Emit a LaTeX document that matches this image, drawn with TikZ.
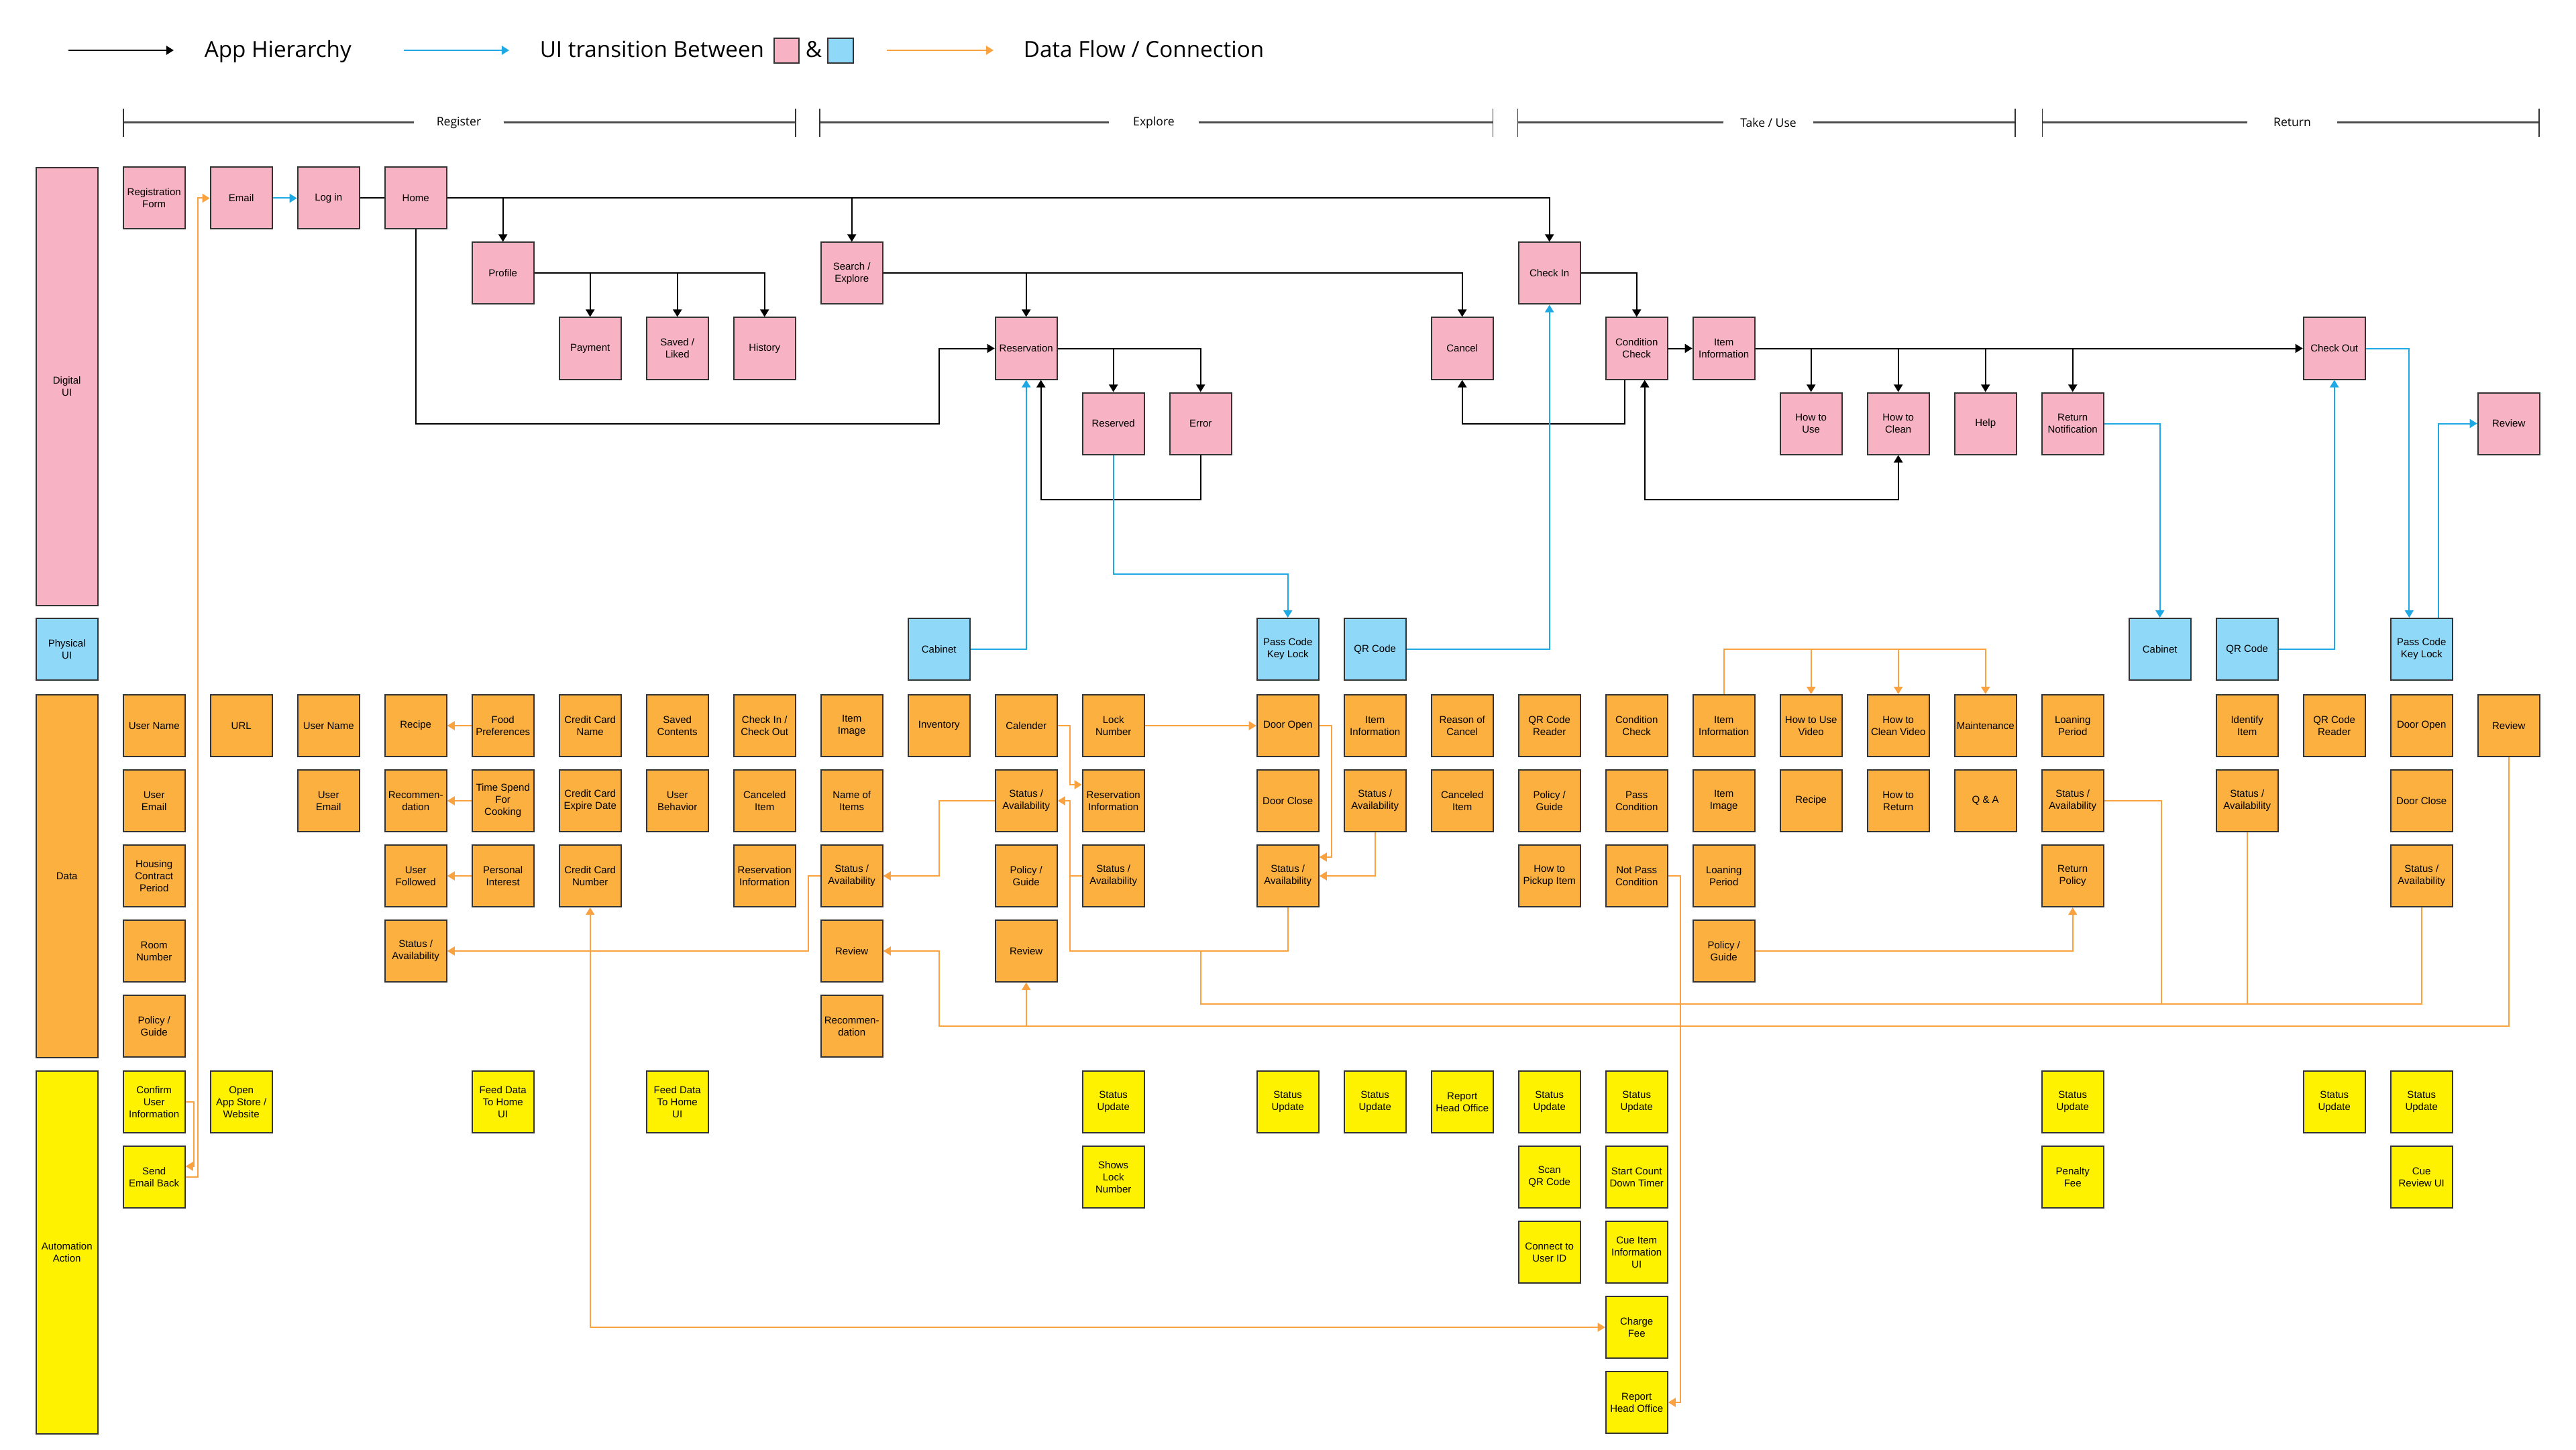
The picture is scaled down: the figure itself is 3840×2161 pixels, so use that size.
\documentclass[tikz,border=0pt]{standalone}
\usepackage{fontspec}
\setmainfont{Liberation Sans}
\newfontfamily\legendfont{Open Sans}
\usetikzlibrary{arrows.meta}
\definecolor{pinkc}{HTML}{F7B2C4}
\definecolor{bluec}{HTML}{8FD8F8}
\definecolor{orangec}{HTML}{FBB040}
\definecolor{yellowc}{HTML}{FFF200}
\definecolor{bline}{HTML}{1EA8E4}
\definecolor{oline}{HTML}{F9A23F}
\definecolor{edgec}{HTML}{333333}
\begin{document}
\begin{tikzpicture}[x=0.25pt,y=-0.25pt,
  box/.style={draw=edgec,line width=0.5pt,minimum width=23pt,minimum height=23pt,inner sep=0pt,align=center,font=\fontsize{3.75}{4.5}\selectfont},
  pk/.style={box,fill=pinkc},
  bl/.style={box,fill=bluec},
  dt/.style={box,fill=orangec},
  au/.style={box,fill=yellowc},
  blk/.style={draw=black,line width=0.5pt},
  blu/.style={draw=bline,line width=0.5pt},
  org/.style={draw=oline,line width=0.5pt},
  tip/.style={-{Triangle[length=2.8pt,width=3.3pt]}},
  dtip/.style={{Triangle[length=2.8pt,width=3.3pt]}-{Triangle[length=2.8pt,width=3.3pt]}},
  legtext/.style={anchor=base west,inner sep=0pt,font=\legendfont\fontsize{8.3}{10}\selectfont},
  phase/.style={draw=black!70,line width=0.6pt},
  phtick/.style={draw=black!80,line width=0.3pt},
  phtext/.style={fill=white,inner sep=0pt,minimum width=33.3pt,minimum height=6pt,font=\legendfont\fontsize{4.4}{5}\selectfont},
]
\useasboundingbox[fill=white] (0,0) rectangle (3840,2161);

% ---------------- legend ----------------
\coordinate (la1) at (102,75); \coordinate (la2) at (259,75);
\coordinate (lb1) at (602,75); \coordinate (lb2) at (759,75);
\coordinate (lc1) at (1322,75); \coordinate (lc2) at (1481,75);
\draw[blk,tip,line width=0.6pt] (la1) -- (la2);
\draw[blu,tip,line width=0.6pt] (lb1) -- (lb2);
\draw[org,tip,line width=0.6pt] (lc1) -- (lc2);
\node[legtext] (lt1) at (304,86) {App Hierarchy};
\node[legtext] (lt2) at (804,86) {UI transition Between};
\node[draw=edgec,line width=0.4pt,fill=pinkc,minimum width=9.25pt,minimum height=9.25pt,inner sep=0pt] (lsq1) at (1172.5,75.5) {};
\node[legtext] (lamp) at (1200,86) {\&};
\node[draw=edgec,line width=0.4pt,fill=bluec,minimum width=9.5pt,minimum height=9.25pt,inner sep=0pt] (lsq2) at (1253,75.5) {};
\node[legtext] (lt3) at (1525,86) {Data Flow / Connection};

% ---------------- phases ----------------
\draw[phase] (184,182.7) -- (1186,182.7);
\draw[phtick] (184,162) -- (184,204); \draw[phtick] (1186,162) -- (1186,204);
\node[phtext] (ph1) at (684,182.7) {Register};
\draw[phase] (1222,182.7) -- (2225.5,182.7);
\draw[phtick] (1222,162) -- (1222,204); \draw[phtick] (2225.5,162) -- (2225.5,204);
\node[phtext] (ph2) at (1720,182.7) {Explore};
\draw[phase] (2262.6,182.7) -- (3004,182.7);
\draw[phtick] (2262.6,162) -- (2262.6,204); \draw[phtick] (3004,162) -- (3004,204);
\node[phtext] (ph3) at (2636,182.7) {Take / Use};
\draw[phase] (3044.8,182.7) -- (3785,182.7);
\draw[phtick] (3044.8,162) -- (3044.8,204); \draw[phtick] (3785,162) -- (3785,204);
\node[phtext] (ph4) at (3417,182.7) {Return};

\begin{scope}[x=32.5pt,xshift=24.925pt]
% ---------------- category labels ----------------
\node[pk,minimum height=163.25pt] (catd) at (0,576.5) {Digital\\UI};
\node[bl] (catp) at (0,968) {Physical\\UI};
\node[dt,minimum height=135.25pt] (catdata) at (0,1306.5) {Data};
\node[au,minimum height=135.25pt] (cata) at (0,1867.5) {Automation\\Action};

% ---------------- digital UI ----------------
\node[pk] (regform) at (1,295.5) {Registration\\Form};
\node[pk] (email) at (2,295.5) {Email};
\node[pk] (login) at (3,295.5) {Log in};
\node[pk] (home) at (4,295.5) {Home};
\node[pk] (profile) at (5,407.5) {Profile};
\node[pk] (payment) at (6,519.5) {Payment};
\node[pk] (saved) at (7,519.5) {Saved /\\Liked};
\node[pk] (history) at (8,519.5) {History};
\node[pk] (search) at (9,407.5) {Search /\\Explore};
\node[pk] (reservation) at (11,519.5) {Reservation};
\node[pk] (reserved) at (12,631.5) {Reserved};
\node[pk] (error) at (13,631.5) {Error};
\node[pk] (cancel) at (16,519.5) {Cancel};
\node[pk] (checkin) at (17,407.5) {Check In};
\node[pk] (condcheck) at (18,519.5) {Condition\\Check};
\node[pk] (iteminfo) at (19,519.5) {Item\\Information};
\node[pk] (howuse) at (20,631.5) {How to\\Use};
\node[pk] (howclean) at (21,631.5) {How to\\Clean};
\node[pk] (help) at (22,631.5) {Help};
\node[pk] (retnotif) at (23,631.5) {Return\\Notification};
\node[pk] (checkout) at (26,519.5) {Check Out};
\node[pk] (reviewui) at (28,631.5) {Review};

% ---------------- physical UI ----------------
\node[bl] (cab1) at (10,968) {Cabinet};
\node[bl] (pass1) at (14,968) {Pass Code\\Key Lock};
\node[bl] (qr1) at (15,968) {QR Code};
\node[bl] (cab2) at (24,968) {Cabinet};
\node[bl] (qr2) at (25,968) {QR Code};
\node[bl] (pass2) at (27,968) {Pass Code\\Key Lock};

% ---------------- data ----------------
\node[dt] (d1r1) at (1,1082) {User Name};
\node[dt] (d1r2) at (1,1194) {User\\Email};
\node[dt] (d1r3) at (1,1306) {Housing\\Contract\\Period};
\node[dt] (d1r4) at (1,1418) {Room\\Number};
\node[dt] (d1r5) at (1,1530) {Policy /\\Guide};
\node[dt] (d2r1) at (2,1082) {URL};
\node[dt] (d3r1) at (3,1082) {User Name};
\node[dt] (d3r2) at (3,1194) {User\\Email};
\node[dt] (d4r1) at (4,1082) {Recipe};
\node[dt] (d4r2) at (4,1194) {Recommen-\\dation};
\node[dt] (d4r3) at (4,1306) {User\\Followed};
\node[dt] (d4r4) at (4,1418) {Status /\\Availability};
\node[dt] (d5r1) at (5,1082) {Food\\Preferences};
\node[dt] (d5r2) at (5,1194) {Time Spend\\For\\Cooking};
\node[dt] (d5r3) at (5,1306) {Personal\\Interest};
\node[dt] (d6r1) at (6,1082) {Credit Card\\Name};
\node[dt] (d6r2) at (6,1194) {Credit Card\\Expire Date};
\node[dt] (d6r3) at (6,1306) {Credit Card\\Number};
\node[dt] (d7r1) at (7,1082) {Saved\\Contents};
\node[dt] (d7r2) at (7,1194) {User\\Behavior};
\node[dt] (d8r1) at (8,1082) {Check In /\\Check Out};
\node[dt] (d8r2) at (8,1194) {Canceled\\Item};
\node[dt] (d8r3) at (8,1306) {Reservation\\Information};
\node[dt] (d9r1) at (9,1082) {Item\\Image};
\node[dt] (d9r2) at (9,1194) {Name of\\Items};
\node[dt] (d9r3) at (9,1306) {Status /\\Availability};
\node[dt] (d9r4) at (9,1418) {Review};
\node[dt] (d9r5) at (9,1530) {Recommen-\\dation};
\node[dt] (d10r1) at (10,1082) {Inventory};
\node[dt] (d11r1) at (11,1082) {Calender};
\node[dt] (d11r2) at (11,1194) {Status /\\Availability};
\node[dt] (d11r3) at (11,1306) {Policy /\\Guide};
\node[dt] (d11r4) at (11,1418) {Review};
\node[dt] (d12r1) at (12,1082) {Lock\\Number};
\node[dt] (d12r2) at (12,1194) {Reservation\\Information};
\node[dt] (d12r3) at (12,1306) {Status /\\Availability};
\node[dt] (d14r1) at (14,1082) {Door Open};
\node[dt] (d14r2) at (14,1194) {Door Close};
\node[dt] (d14r3) at (14,1306) {Status /\\Availability};
\node[dt] (d15r1) at (15,1082) {Item\\Information};
\node[dt] (d15r2) at (15,1194) {Status /\\Availability};
\node[dt] (d16r1) at (16,1082) {Reason of\\Cancel};
\node[dt] (d16r2) at (16,1194) {Canceled\\Item};
\node[dt] (d17r1) at (17,1082) {QR Code\\Reader};
\node[dt] (d17r2) at (17,1194) {Policy /\\Guide};
\node[dt] (d17r3) at (17,1306) {How to\\Pickup Item};
\node[dt] (d18r1) at (18,1082) {Condition\\Check};
\node[dt] (d18r2) at (18,1194) {Pass\\Condition};
\node[dt] (d18r3) at (18,1306) {Not Pass\\Condition};
\node[dt] (d19r1) at (19,1082) {Item\\Information};
\node[dt] (d19r2) at (19,1194) {Item\\Image};
\node[dt] (d19r3) at (19,1306) {Loaning\\Period};
\node[dt] (d19r4) at (19,1418) {Policy /\\Guide};
\node[dt] (d20r1) at (20,1082) {How to Use\\Video};
\node[dt] (d20r2) at (20,1194) {Recipe};
\node[dt] (d21r1) at (21,1082) {How to\\Clean Video};
\node[dt] (d21r2) at (21,1194) {How to\\Return};
\node[dt] (d22r1) at (22,1082) {Maintenance};
\node[dt] (d22r2) at (22,1194) {Q \& A};
\node[dt] (d23r1) at (23,1082) {Loaning\\Period};
\node[dt] (d23r2) at (23,1194) {Status /\\Availability};
\node[dt] (d23r3) at (23,1306) {Return\\Policy};
\node[dt] (d25r1) at (25,1082) {Identify\\Item};
\node[dt] (d25r2) at (25,1194) {Status /\\Availability};
\node[dt] (d26r1) at (26,1082) {QR Code\\Reader};
\node[dt] (d27r1) at (27,1082) {Door Open};
\node[dt] (d27r2) at (27,1194) {Door Close};
\node[dt] (d27r3) at (27,1306) {Status /\\Availability};
\node[dt] (d28r1) at (28,1082) {Review};

% ---------------- automation ----------------
\node[au] (a1r1) at (1,1643) {Confirm\\User\\Information};
\node[au] (a1r2) at (1,1755) {Send\\Email Back};
\node[au] (a2r1) at (2,1643) {Open\\App Store /\\Website};
\node[au] (a5r1) at (5,1643) {Feed Data\\To Home\\UI};
\node[au] (a7r1) at (7,1643) {Feed Data\\To Home\\UI};
\node[au] (a12r1) at (12,1643) {Status\\Update};
\node[au] (a12r2) at (12,1755) {Shows\\Lock\\Number};
\node[au] (a14r1) at (14,1643) {Status\\Update};
\node[au] (a15r1) at (15,1643) {Status\\Update};
\node[au] (a16r1) at (16,1643) {Report\\Head Office};
\node[au] (a17r1) at (17,1643) {Status\\Update};
\node[au] (a17r2) at (17,1755) {Scan\\QR Code};
\node[au] (a17r3) at (17,1867) {Connect to\\User ID};
\node[au] (a18r1) at (18,1643) {Status\\Update};
\node[au] (a18r2) at (18,1755) {Start Count\\Down Timer};
\node[au] (a18r3) at (18,1867) {Cue Item\\Information\\UI};
\node[au] (a18r4) at (18,1979) {Charge\\Fee};
\node[au] (a18r5) at (18,2091) {Report\\Head Office};
\node[au] (a23r1) at (23,1643) {Status\\Update};
\node[au] (a23r2) at (23,1755) {Penalty\\Fee};
\node[au] (a26r1) at (26,1643) {Status\\Update};
\node[au] (a27r1) at (27,1643) {Status\\Update};
\node[au] (a27r2) at (27,1755) {Cue\\Review UI};

% ---------------- black: app hierarchy ----------------
\draw[blk] (login) -- (home);
\draw[blk,tip] (home.east) -| (checkin.north);
\draw[blk,tip] (profile.north |- home.east) -- (profile.north);
\draw[blk,tip] (search.north |- home.east) -- (search.north);
\draw[blk,tip] (profile.east) -| (history.north);
\draw[blk,tip] (payment.north |- profile.east) -- (payment.north);
\draw[blk,tip] (saved.north |- profile.east) -- (saved.north);
\draw[blk,tip] (search.east) -| (cancel.north);
\draw[blk,tip] (reservation.north |- search.east) -- (reservation.north);
\coordinate (hb) at (10,632);
\draw[blk,tip] (home.south) |- (hb) |- (reservation.west);
\draw[blk,tip] (reservation.east) -| (error.north);
\draw[blk,tip] (reserved.north |- reservation.east) -- (reserved.north);
\coordinate (eb) at (13,745);
\coordinate (rsr) at ([xshift=5.5pt]reservation.south);
\draw[blk,tip] (error.south) |- (rsr |- eb) -- (rsr);
\draw[blk,tip] (checkin.east) -| (condcheck.north);
\draw[blk,tip] (condcheck) -- (iteminfo);
\draw[blk,tip] (iteminfo.east) -- (checkout.west);
\foreach \n in {howuse,howclean,help,retnotif} \draw[blk,tip] (\n.north |- iteminfo.east) -- (\n.north);
\coordinate (ccl) at ([xshift=-4.5pt]condcheck.south);
\coordinate (cb) at (16,632);
\draw[blk,tip] (ccl) |- (cb) -- (cancel.south);
\coordinate (ccr) at ([xshift=3pt]condcheck.south);
\draw[blk,dtip] (ccr) |- (howclean.south |- eb) -- (howclean.south);

% ---------------- blue: UI transitions ----------------
\draw[blu,tip] (email) -- (login);
\draw[blu,tip] (cab1.east) -| (reservation.south);
\coordinate (rb) at (12,856);
\draw[blu,tip] (reserved.south) |- (pass1.north |- rb) -- (pass1.north);
\draw[blu,tip] (qr1.east) -| (checkin.south);
\draw[blu,tip] (retnotif.east) -| (cab2.north);
\draw[blu,tip] (qr2.east) -| (checkout.south);
\coordinate (p2l) at ([xshift=-4.6pt]pass2.north);
\coordinate (p2r) at ([xshift=6.3pt]pass2.north);
\draw[blu,tip] (checkout.east) -| (p2l);
\draw[blu,tip] (p2r) |- (reviewui.west);

% ---------------- orange: data flow ----------------
\coordinate (o1) at (1.5,295.5);
\draw[org,tip] (a1r2.east) -| (o1) -- (email.west);
\coordinate (o2) at (1.455,1739);
\draw[org,tip] (a1r1.east) -| (o2) -- (a1r2.east |- o2);
\draw[org,tip] (d5r1) -- (d4r1);
\draw[org,tip] (d5r2) -- (d4r2);
\draw[org,tip] (d5r3) -- (d4r3);
\coordinate (j85) at (8.5,1418);
\draw[org,tip] (d9r3.west) -| (j85) -- (d4r4.east);
\coordinate (j10) at (10,1306);
\draw[org,tip] (d11r2.west) -| (j10) -- (d9r3.east);
\coordinate (j115a) at (11.5,1170);
\draw[org,tip] (d11r1.east) -| (j115a) -- (d12r2.west |- j115a);
\coordinate (j115b) at (11.5,1418);
\draw[org] (d12r3.west) -| (j115b) -| (d14r3.south);
\coordinate (j115c) at (11.5,1306);
\draw[org,tip] (j115c) |- (d11r2.east);
\coordinate (j13) at (13,1418);
\coordinate (j13b) at (13,1497);
\draw[org] (j13) -- (j13b) -| (d27r3.south);
\coordinate (j24) at (24.02,1497);
\draw[org] (d23r2.east) -| (j24);
\draw[org] (d25r2.south) -- (d25r2.south |- j13b);
\draw[org,tip] (d12r1) -- (d14r1);
\coordinate (j145) at (14.5,1278);
\draw[org,tip] (d14r1.east) -| (j145) -- (d14r3.east |- j145);
\draw[org,tip] (d15r2.south) |- (d14r3.east);
\coordinate (j968) at (22,968);
\draw[org,tip] (d19r1.north) |- (j968) -- (d22r1.north);
\draw[org,tip] (d20r1.north |- j968) -- (d20r1.north);
\draw[org,tip] (d21r1.north |- j968) -- (d21r1.north);
\coordinate (j185) at (18.5,2091);
\draw[org,tip] (d18r3.east) -| (j185) -- (a18r5.east);
\draw[org,tip] (d19r4.east) -| (d23r3.south);
\coordinate (j1530) at (10,1530);
\draw[org,tip] (d28r1.south) |- (j1530) |- (d9r4.east);
\draw[org,tip] (d11r4.south |- j1530) -- (d11r4.south);
\draw[org,dtip] (d6r3.south) |- (a18r4.west);
\end{scope}
\end{tikzpicture}
\end{document}
